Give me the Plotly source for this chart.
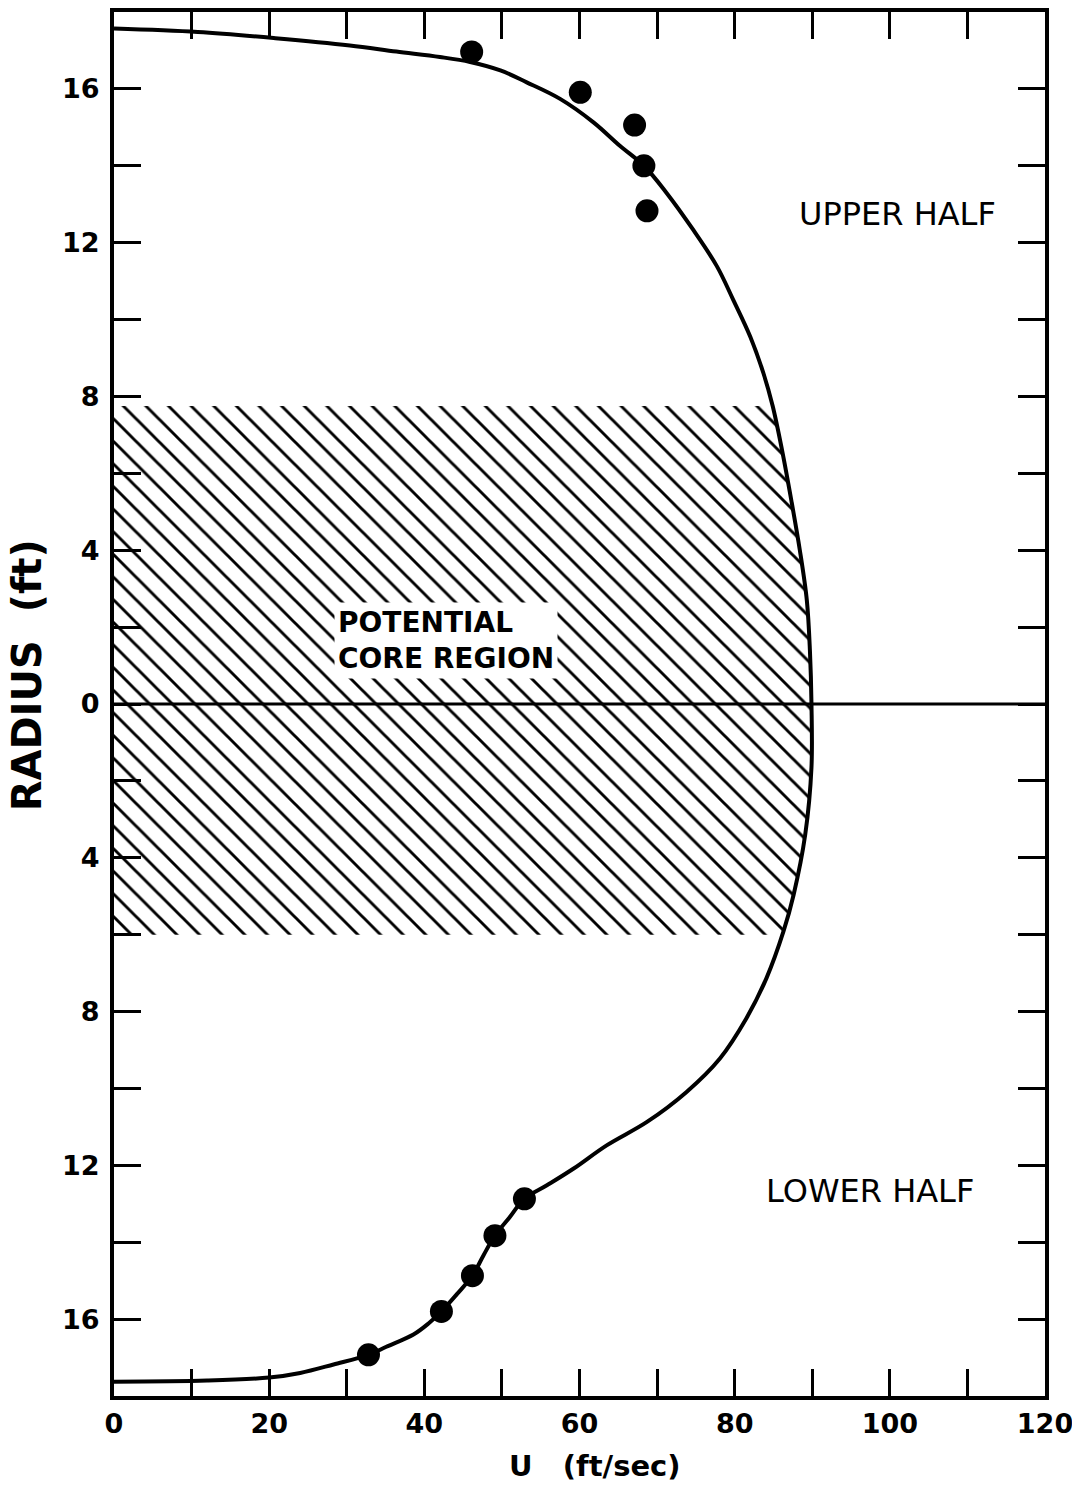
import numpy as np
import plotly.graph_objects as go

# Mean velocity profile across the jet (radius positive = upper half, negative = lower half)
profile_u = [0.0, 10.8, 20.8, 30.4, 36.4, 42.0, 45.9, 49.8, 53.2, 57.5, 61.8, 65.2, 68.3,
             71.2, 74.6, 77.7, 79.8, 82.0, 83.7, 84.9, 86.1, 87.3, 88.4, 89.3, 89.7, 89.9,
             89.9, 89.1, 87.6, 86.3, 84.1, 81.5, 78.1, 73.8, 68.7, 63.5, 59.2, 55.8, 52.9,
             51.0, 49.1, 47.6, 46.2, 44.2, 42.2, 40.5, 38.6, 35.1, 32.8, 28.3, 24.0, 20.0, 12.0, 0.0]
profile_r = [17.57, 17.48, 17.32, 17.13, 16.97, 16.83, 16.70, 16.48, 16.17, 15.74, 15.13, 14.52, 14.0,
             13.3, 12.35, 11.39, 10.52, 9.56, 8.61, 7.75, 6.61, 5.30, 4.0, 2.7, 1.39, 0.0,
             -1.65, -3.39, -4.96, -5.91, -7.13, -8.18, -9.22, -10.09, -10.87, -11.48, -12.09, -12.52, -12.87,
             -13.35, -13.83, -14.35, -14.87, -15.35, -15.8, -16.12, -16.40, -16.72, -16.93, -17.18, -17.40,
             -17.52, -17.60, -17.63]

# Measured points
upper_u = [46.1, 60.1, 67.1, 68.3, 68.7]
upper_r = [16.96, 15.91, 15.06, 14.0, 12.83]
lower_u = [52.9, 49.1, 46.2, 42.2, 32.8]
lower_r = [-12.87, -13.83, -14.87, -15.8, -16.93]

# Potential core extent (radius)
core_top = 7.75
core_bottom = -6.0

x_ticks = list(range(0, 121, 10))
x_labels = [str(v) if v % 20 == 0 else "" for v in x_ticks]
y_ticks = list(range(-16, 17, 2))
y_labels = [str(abs(v)) if v % 4 == 0 else "" for v in y_ticks]

FONT = "DejaVu Sans"

# Hatched core region bounded by the profile curve
pu = np.array(profile_u)
pr = np.array(profile_r)
order = np.argsort(pr)
inner = (pr > core_bottom) & (pr < core_top)
edge_r = np.concatenate([[core_bottom], pr[inner][::-1], [core_top]])
edge_u = np.interp(edge_r, pr[order], pu[order])
core_u = np.concatenate([[0.0], edge_u, [0.0]])
core_r = np.concatenate([[core_bottom], edge_r, [core_top]])

fig = go.Figure()

fig.add_trace(go.Scatter(
    x=core_u, y=core_r, mode="lines", fill="toself",
    line=dict(width=0, color="rgba(0,0,0,0)"),
    fillcolor="rgba(0,0,0,0)",
    fillpattern=dict(shape="\\", size=16, solidity=0.18, fgcolor="black",
                     fgopacity=1, bgcolor="rgba(0,0,0,0)"),
    hoverinfo="skip", showlegend=False,
))

fig.add_trace(go.Scatter(
    x=profile_u, y=profile_r, mode="lines",
    line=dict(color="black", width=4, shape="spline", smoothing=1.0),
    showlegend=False,
))

fig.add_trace(go.Scatter(
    x=upper_u + lower_u, y=upper_r + lower_r, mode="markers",
    marker=dict(color="black", size=23, line=dict(width=0)),
    showlegend=False,
))

# Jet centreline
fig.add_shape(type="line", x0=0, x1=120, y0=0, y1=0, xref="x", yref="y",
              line=dict(color="black", width=3), layer="above")

fig.add_annotation(x=28.3, y=1.65, xref="x", yref="y", xanchor="left", yanchor="middle",
                   align="left", showarrow=False, bgcolor="white", borderpad=3,
                   text="POTENTIAL<br>CORE REGION",
                   font=dict(family=FONT, size=28, color="black", weight="bold"))
fig.add_annotation(x=101, y=12.74, xref="x", yref="y", showarrow=False,
                   text="UPPER HALF", font=dict(family=FONT, size=32, color="black"))
fig.add_annotation(x=97.4, y=-12.68, xref="x", yref="y", showarrow=False,
                   text="LOWER HALF", font=dict(family=FONT, size=32, color="black"))

# Axis titles
fig.add_annotation(x=-0.093, y=0.521, xref="paper", yref="paper", showarrow=False,
                   xanchor="center", yanchor="middle", textangle=-90, text="RADIUS  (ft)",
                   font=dict(family=FONT, size=40, color="black", weight="bold"))
fig.add_annotation(x=0.517, y=-0.0506, xref="paper", yref="paper", showarrow=False,
                   xanchor="center", yanchor="middle", text="U   (ft/sec)",
                   font=dict(family=FONT, size=29, color="black", weight="bold"))

axis_common = dict(
    showgrid=False, zeroline=False, showline=True, linecolor="black", linewidth=4,
    mirror="ticks", ticks="inside", ticklen=27, tickwidth=3, tickcolor="black",
    automargin=False, ticklabeloverflow="allow",
    tickfont=dict(family=FONT, size=27, color="black", weight="bold"),
)

fig.update_xaxes(range=[0, 120], tickmode="array", tickvals=x_ticks, ticktext=x_labels,
                 ticklabelstandoff=1, **axis_common)
fig.update_yaxes(range=[-18, 18], tickmode="array", tickvals=y_ticks, ticktext=y_labels,
                 ticklabelstandoff=5, **axis_common)

fig.update_layout(
    width=1072, height=1487, autosize=False,
    margin=dict(l=114, r=27, t=12, b=91),
    paper_bgcolor="white", plot_bgcolor="white",
    showlegend=False,
)

fig.write_html("out.html")
